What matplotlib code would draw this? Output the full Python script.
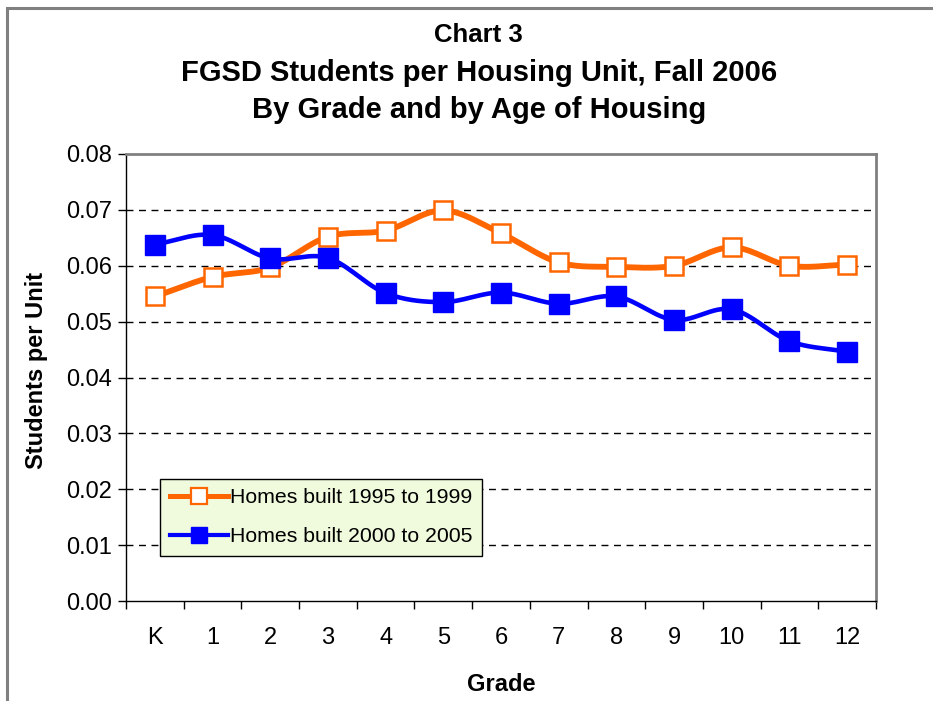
import numpy as np
import matplotlib
matplotlib.use("Agg")
import matplotlib.pyplot as plt
from matplotlib.patches import Rectangle

plt.rcParams['font.family'] = ['Liberation Sans', 'DejaVu Sans']

grades = ['K', '1', '2', '3', '4', '5', '6', '7', '8', '9', '10', '11', '12']
homes_1995_1999 = [0.0545, 0.0580, 0.0597, 0.0652, 0.0663, 0.0699, 0.0658, 0.0606, 0.0598, 0.0600, 0.0633, 0.0600, 0.0602]
homes_2000_2005 = [0.0638, 0.0655, 0.0613, 0.0614, 0.0551, 0.0535, 0.0552, 0.0532, 0.0545, 0.0503, 0.0522, 0.0465, 0.0446]
yticks = [0.00, 0.01, 0.02, 0.03, 0.04, 0.05, 0.06, 0.07, 0.08]


def smooth(x, y, n=30):
    # catmull-rom style curve through the points, like excel's smoothed line
    x = np.asarray(x, float)
    y = np.asarray(y, float)
    px = np.concatenate([[2 * x[0] - x[1]], x, [2 * x[-1] - x[-2]]])
    py = np.concatenate([[2 * y[0] - y[1]], y, [2 * y[-1] - y[-2]]])
    xs, ys = [], []
    t = np.linspace(0, 1, n)
    for i in range(1, len(px) - 2):
        for p, out in ((px, xs), (py, ys)):
            p0, p1, p2, p3 = p[i - 1], p[i], p[i + 1], p[i + 2]
            c1 = p1 + (p2 - p0) / 6
            c2 = p2 - (p3 - p1) / 6
            out.extend((1 - t) ** 3 * p1 + 3 * (1 - t) ** 2 * t * c1
                       + 3 * (1 - t) * t ** 2 * c2 + t ** 3 * p2)
    return np.array(xs), np.array(ys)


fig = plt.figure(figsize=(9.33, 7.01), dpi=100)
fig.patches.append(Rectangle((7 / 933, -0.1), 1.2, 1.1 - 8 / 701, transform=fig.transFigure,
                             fill=False, edgecolor='#808080', linewidth=2.2))
ax = fig.add_axes([126 / 933, 1 - 601 / 701, 750 / 933, 447 / 701])

x = np.arange(len(grades))
orange = '#FF6600'
blue = '#0000FF'

sx, sy = smooth(x, homes_1995_1999)
ax.plot(sx, sy, color=orange, lw=4.2, solid_capstyle='round', zorder=3)
ax.plot(x, homes_1995_1999, ls='none', marker='s', ms=13, mfc='white', mec=orange, mew=1.8, zorder=4)
sx, sy = smooth(x, homes_2000_2005)
ax.plot(sx, sy, color=blue, lw=3.3, solid_capstyle='round', zorder=5)
ax.plot(x, homes_2000_2005, ls='none', marker='s', ms=14, mfc=blue, mec=blue, zorder=6)

# legend entries
ax.plot([], [], color=orange, lw=3.6, marker='s', ms=11, mfc='white', mec=orange, mew=1.6,
        label='Homes built 1995 to 1999')
ax.plot([], [], color=blue, lw=3.0, marker='s', ms=11, mfc=blue, mec=blue,
        label='Homes built 2000 to 2005')

ax.set_xlim(-0.5, 12.5)
ax.set_ylim(0, 0.08)
ax.set_yticks(yticks)
ax.set_yticklabels([f'{v:.2f}' for v in yticks])
ax.set_xticks(x)
ax.set_xticklabels(grades)
ax.set_xticks(np.arange(-0.5, 13, 1), minor=True)
ax.tick_params(axis='x', which='major', length=0, pad=19, labelsize=17)
ax.tick_params(axis='x', which='minor', length=6, direction='out', width=1)
ax.tick_params(axis='y', length=6, direction='out', width=1, labelsize=17, pad=4)

for v in yticks[1:-1]:
    ax.axhline(v, color='black', lw=1, ls=(0, (5, 4)), zorder=1)

for s in ('top', 'right'):
    ax.spines[s].set_color('#808080')
    ax.spines[s].set_linewidth(2)
ax.spines['left'].set_linewidth(1)
ax.spines['bottom'].set_linewidth(1)

ax.set_xlabel('Grade', fontsize=17, fontweight='bold', labelpad=17)
ax.set_ylabel('Students per Unit', fontsize=17, fontweight='bold', labelpad=13)
ax.yaxis.label.set_y(0.515)

leg = ax.legend(loc='lower left', bbox_to_anchor=(34 / 750, 45 / 447), fontsize=15.3,
                frameon=True, fancybox=False, framealpha=1, handlelength=2.75,
                handletextpad=0.1, borderpad=0.45, labelspacing=0.95, borderaxespad=0)
leg.get_frame().set_facecolor('#F0FADC')
leg.get_frame().set_edgecolor('black')
leg.get_frame().set_linewidth(1)

fig.text(0.513, 1 - 35 / 701, 'Chart 3', ha='center', va='center', fontsize=18.5, fontweight='bold')
fig.text(0.513, 1 - 73 / 701, 'FGSD Students per Housing Unit, Fall 2006', ha='center', va='center',
         fontsize=21, fontweight='bold')
fig.text(0.513, 1 - 110 / 701, 'By Grade and by Age of Housing', ha='center', va='center',
         fontsize=21, fontweight='bold')

fig.savefig('out.png', dpi=100)
